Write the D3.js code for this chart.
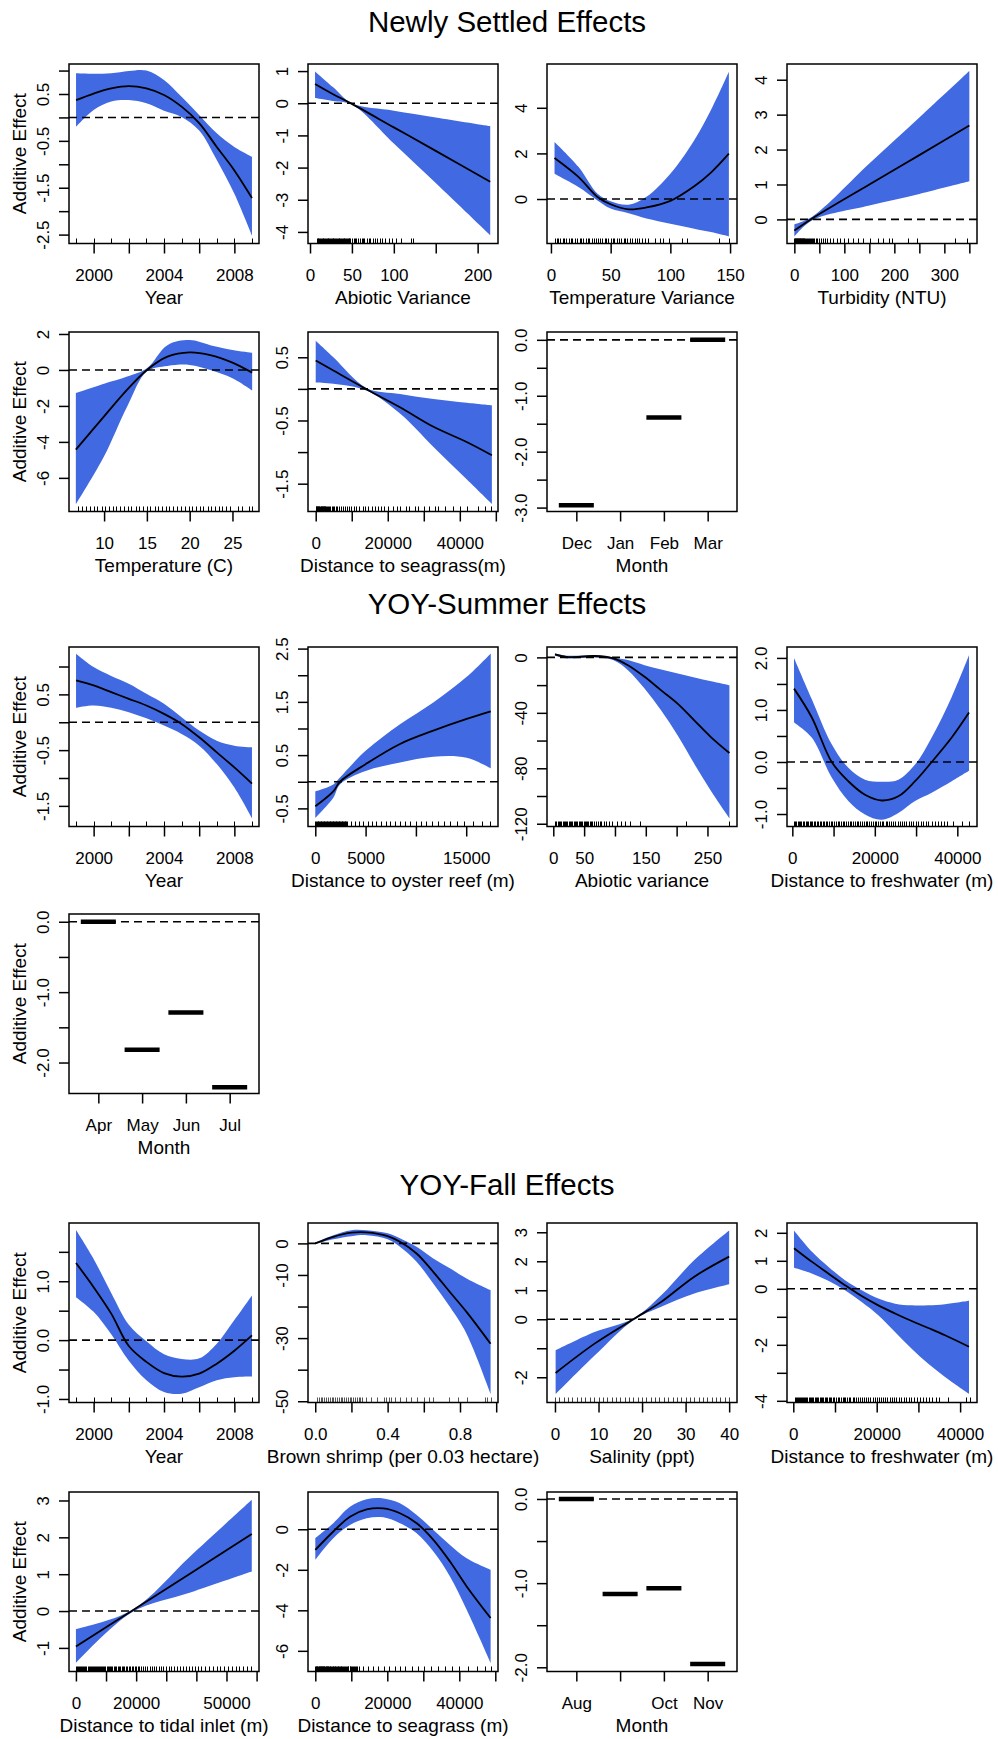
<!DOCTYPE html>
<html>
<head>
<meta charset="utf-8">
<script src="https://cdn.jsdelivr.net/npm/d3@7"></script>
<style>
  body { margin: 0; background: #fff; }
  svg text { font-family: "Liberation Sans", Arial, Helvetica, sans-serif; fill: #000; }
</style>
</head>
<body>
<svg id="chart" width="998" height="1739"></svg>
<script>
// ---- data: each smooth row is [x, fit, lower, upper] ----
const years = [1999, 2000, 2001, 2002, 2003, 2004, 2005, 2006, 2007, 2008, 2009];
const yearTicks = [2000, 2002, 2004, 2006, 2008];
const yearLabels = ["2000", "", "2004", "", "2008"];

// Newly settled
const nsYear = [
  [1999, 0.37, -0.20, 0.94], [2000, 0.51, 0.16, 0.93], [2001, 0.62, 0.34, 0.94],
  [2002, 0.67, 0.37, 0.99], [2003, 0.62, 0.30, 1.00], [2004, 0.48, 0.14, 0.80],
  [2005, 0.23, 0.01, 0.44], [2006, -0.12, -0.28, 0.05], [2007, -0.63, -0.91, -0.34],
  [2008, -1.13, -1.63, -0.63], [2009, -1.72, -2.52, -0.84]
];
const nsAbiotic = [
  [6, 0.60, 0.16, 0.99], [27, 0.29, 0.07, 0.51], [50, -0.02, -0.04, 0.00],
  [100, -0.75, -1.25, -0.23], [150, -1.48, -2.48, -0.44], [215, -2.44, -4.10, -0.71]
];
const nsAbioticRug = [8, 9, 10, 11, 12, 13, 14, 15, 16, 17, 18, 19, 20, 21, 22, 23, 24, 25, 26, 27, 28, 29, 30, 31, 32, 33, 34, 35, 36, 37, 38, 39, 40, 41, 42, 43, 44, 45, 46, 47, 48, 50, 52, 54, 55, 57, 60, 62, 63, 65, 68, 70, 72, 75, 78, 80, 83, 86, 90, 94, 98, 103, 108, 120, 123];
const nsTempVar = [
  [3, 1.80, 1.11, 2.50], [23, 0.97, 0.53, 1.41], [39, 0.09, -0.06, 0.23],
  [50, -0.23, -0.42, -0.10], [65, -0.45, -0.62, -0.25], [80, -0.37, -0.85, 0.10],
  [100, -0.08, -1.08, 1.11], [120, 0.56, -1.30, 2.58], [134, 1.16, -1.45, 3.90],
  [149, 1.99, -1.64, 5.58]
];
const nsTempVarRug = [3, 5, 6, 8, 10, 11, 13, 15, 17, 18, 20, 22, 24, 25, 27, 29, 31, 32, 34, 36, 38, 39, 41, 43, 45, 46, 48, 50, 52, 53, 55, 57, 59, 61, 62, 64, 66, 68, 70, 72, 74, 76, 79, 81, 87, 91, 94, 99, 110, 114, 141, 149];
const nsTurb = [
  [0, -0.32, -0.49, -0.14], [35, 0.02, -0.03, 0.07], [150, 1.00, 0.40, 1.60],
  [250, 1.84, 0.73, 2.92], [350, 2.69, 1.09, 4.25]
];
const nsTurbRug = [0, 1, 2, 3, 4, 5, 6, 7, 8, 9, 10, 11, 12, 13, 14, 15, 16, 17, 18, 19, 20, 22, 24, 26, 28, 30, 32, 34, 36, 38, 40, 43, 46, 50, 54, 58, 62, 66, 72, 78, 85, 92, 100, 108, 118, 127, 138, 152, 168, 178, 190, 196, 228, 245, 322, 345];
const nsTemp = [
  [6.7, -4.43, -7.47, -1.29], [10, -2.58, -4.80, -0.77], [12.7, -1.10, -2.03, -0.37],
  [15, 0.00, -0.09, 0.09], [17.4, 0.74, 0.22, 1.38], [20, 0.98, 0.28, 1.66],
  [22.4, 0.83, 0.00, 1.38], [25, 0.41, -0.46, 1.11], [27.3, -0.15, -1.14, 0.96]
];
const nsTempRug = [7.0, 7.4, 7.9, 8.3, 8.8, 9.2, 9.7, 10.1, 10.6, 11.0, 11.4, 11.9, 12.3, 12.8, 13.2, 13.7, 14.1, 14.5, 15.0, 15.4, 15.9, 16.3, 16.8, 17.2, 17.6, 18.1, 18.5, 19.0, 19.4, 19.9, 20.3, 20.7, 21.2, 21.6, 22.1, 22.5, 23.0, 23.4, 23.8, 24.3, 24.7, 25.6, 26.1, 26.9, 27.3];
const nsSeagrass = [
  [0, 0.45, 0.10, 0.76], [4900, 0.29, 0.08, 0.50], [14200, -0.01, -0.03, 0.01],
  [23400, -0.29, -0.39, -0.08], [32700, -0.60, -0.92, -0.16], [41900, -0.84, -1.43, -0.22],
  [48900, -1.05, -1.82, -0.26]
];
const nsSeagrassRug = [0, 150, 300, 450, 600, 750, 900, 1050, 1200, 1350, 1500, 1650, 1800, 1950, 2100, 2250, 2400, 2550, 2700, 2850, 3000, 3300, 3600, 4000, 4400, 4800, 5200, 5600, 6000, 6500, 7000, 7500, 8000, 8600, 9200, 9800, 10500, 11200, 12000, 13000, 13800, 14500, 15500, 16500, 17200, 18000, 19000, 20000, 21500, 22500, 23500, 25000, 26000, 27500, 28500, 30000, 31500, 33000, 34000, 36000, 38000, 40000, 42000, 45000, 47000, 48600];
const nsMonthNames = ["Dec", "Jan", "Feb", "Mar"];
const nsMonth = [-2.96, null, -1.39, 0.0];

// YOY summer
const ysYear = [
  [1999, 0.75, 0.26, 1.23], [2000, 0.66, 0.30, 0.99], [2001, 0.54, 0.26, 0.83],
  [2002, 0.42, 0.18, 0.69], [2003, 0.30, 0.07, 0.51], [2004, 0.15, -0.06, 0.33],
  [2005, -0.03, -0.21, 0.09], [2006, -0.27, -0.42, -0.15], [2007, -0.54, -0.75, -0.33],
  [2008, -0.81, -1.17, -0.42], [2009, -1.10, -1.72, -0.45]
];
const ysOyster = [
  [0, -0.46, -0.68, -0.18], [1790, -0.18, -0.30, -0.05], [2450, 0.00, -0.05, 0.08],
  [5000, 0.33, 0.20, 0.58], [8420, 0.71, 0.36, 1.08], [11730, 0.96, 0.47, 1.49],
  [15050, 1.18, 0.45, 1.97], [17440, 1.32, 0.25, 2.41]
];
const ysOysterRug = [0, 80, 150, 230, 300, 380, 450, 530, 600, 680, 750, 830, 900, 980, 1050, 1130, 1200, 1280, 1350, 1430, 1500, 1580, 1650, 1730, 1800, 1880, 1950, 2030, 2100, 2180, 2250, 2330, 2400, 2480, 2550, 2630, 2700, 2780, 2850, 2930, 3000, 3100, 3200, 3500, 3900, 4300, 4700, 5200, 5600, 6000, 6500, 7000, 7400, 7900, 8400, 8900, 9400, 10000, 10500, 11000, 11600, 12200, 12800, 13400, 14100, 14800, 15700, 16600, 17400];
const ysAbiotic = [
  [2.7, 2.2, 1.2, 2.9], [24, 0.2, -0.8, 1.2], [67, 1.0, 0.0, 1.7],
  [97, -0.7, -1.9, 0.0], [121, -5.6, -9.2, -1.9], [148, -14.0, -22.5, -5.6],
  [175, -23.8, -38.3, -8.7], [202, -33.5, -56.5, -11.6], [229, -45.6, -77.0, -14.5],
  [256, -57.7, -96.5, -17.2], [285.6, -69.0, -116.0, -20.1]
];
const ysAbioticRug = [3, 5, 7, 9, 11, 13, 15, 17, 19, 21, 23, 25, 27, 29, 31, 33, 35, 37, 39, 41, 43, 45, 47, 49, 51, 53, 55, 57, 59, 61, 63, 66, 69, 72, 75, 78, 82, 86, 90, 96, 103, 110, 117, 125, 141, 215, 285];
const ysFresh = [
  [410, 1.41, 0.76, 2.00], [4700, 0.86, 0.47, 1.21], [9550, 0.00, -0.30, 0.34],
  [13580, -0.37, -0.75, -0.11], [17620, -0.63, -1.01, -0.34], [21670, -0.74, -1.11, -0.38],
  [25700, -0.66, -0.98, -0.34], [29750, -0.37, -0.75, -0.05], [33790, 0.00, -0.59, 0.47],
  [38640, 0.47, -0.37, 1.25], [42830, 0.95, -0.17, 2.05]
];
const ysFreshRug = [400, 700, 1000, 1300, 1600, 1900, 2200, 2600, 2900, 3200, 3500, 3900, 4200, 4500, 4800, 5200, 5500, 5900, 6300, 6600, 7000, 7400, 7800, 8100, 8500, 8900, 9300, 9700, 10100, 10600, 11000, 11400, 11800, 12200, 12600, 13100, 13500, 13900, 14300, 14800, 15200, 15600, 16000, 16500, 16900, 17400, 17800, 18200, 18600, 19100, 19500, 20000, 20400, 20800, 21200, 21700, 22100, 22600, 23000, 23500, 24000, 24500, 25000, 25500, 26000, 26500, 27000, 27600, 28200, 28700, 29300, 29900, 30500, 31100, 31800, 32400, 33000, 33800, 34500, 35200, 36000, 36800, 37600, 39000, 41200, 42800];
const ysMonthNames = ["Apr", "May", "Jun", "Jul"];
const ysMonth = [0.0, -1.82, -1.29, -2.35];

// YOY fall
const yfYear = [
  [1999, 1.31, 0.73, 1.87], [2000, 0.90, 0.48, 1.38], [2001, 0.45, 0.10, 0.80],
  [2002, -0.10, -0.35, 0.26], [2003, -0.37, -0.68, -0.02], [2004, -0.56, -0.88, -0.24],
  [2005, -0.62, -0.91, -0.32], [2006, -0.57, -0.80, -0.31], [2007, -0.40, -0.68, -0.06],
  [2008, -0.18, -0.63, 0.34], [2009, 0.08, -0.62, 0.76]
];
const yfShrimp = [
  [0, 0.0, -0.2, 0.3], [0.1, 2.1, 1.3, 2.6], [0.2, 3.4, 2.3, 4.2],
  [0.284, 3.5, 2.6, 4.2], [0.4, 2.3, 1.3, 3.2], [0.468, 0.5, -1.1, 1.6],
  [0.56, -3.2, -5.8, -1.1], [0.652, -9.0, -12.7, -4.8], [0.744, -15.4, -20.1, -7.9],
  [0.836, -21.7, -28.6, -11.1], [0.969, -31.8, -47.7, -14.8]
];
const yfShrimpRug = [0.01, 0.02, 0.03, 0.04, 0.05, 0.06, 0.07, 0.08, 0.09, 0.1, 0.11, 0.12, 0.13, 0.14, 0.15, 0.16, 0.17, 0.18, 0.19, 0.2, 0.21, 0.22, 0.23, 0.24, 0.25, 0.26, 0.28, 0.31, 0.34, 0.38, 0.39, 0.41, 0.42, 0.44, 0.47, 0.5, 0.53, 0.56, 0.6, 0.63, 0.65, 0.74, 0.79, 0.84, 0.94, 0.95, 0.97];
const yfSalinity = [
  [0.15, -1.85, -2.58, -1.07], [9.1, -0.84, -1.25, -0.44], [18, 0.00, -0.03, 0.03],
  [24.4, 0.60, 0.43, 0.83], [32, 1.47, 0.89, 2.04], [40, 2.16, 1.21, 3.06]
];
const yfSalinityRug = [0, 1, 2, 3, 4, 5, 6, 7, 8, 9, 10, 11, 12, 13, 14, 15, 16, 17, 18, 19, 20, 21, 22, 23, 24, 25, 26, 27, 28, 29, 30, 31, 32, 33, 34, 35, 36, 37, 38, 39, 40];
const yfFresh = [
  [170, 1.45, 0.75, 2.08], [4410, 0.97, 0.55, 1.33], [8390, 0.55, 0.29, 0.79],
  [12400, 0.13, -0.05, 0.31], [16400, -0.26, -0.47, -0.05], [20380, -0.59, -0.94, -0.35],
  [24390, -0.88, -1.54, -0.53], [28390, -1.15, -2.14, -0.59], [32370, -1.40, -2.68, -0.59],
  [36380, -1.66, -3.15, -0.55], [42130, -2.07, -3.75, -0.43]
];
const yfFreshRug = [300, 600, 800, 1100, 1300, 1600, 1800, 2100, 2300, 2600, 2800, 3100, 3400, 3700, 4000, 4300, 4500, 4800, 5100, 5400, 5700, 6000, 6300, 6600, 6900, 7200, 7500, 7800, 8100, 8500, 8800, 9100, 9500, 9800, 10200, 10600, 11000, 11400, 11800, 12100, 12500, 12900, 13300, 13700, 14200, 14600, 15000, 15500, 16000, 16500, 17000, 17500, 18000, 18500, 19000, 19500, 20000, 20500, 21000, 21500, 22000, 22500, 23100, 23600, 24200, 24700, 25300, 25900, 26500, 27100, 27700, 28300, 29000, 29600, 30300, 31000, 31800, 32500, 33300, 34100, 35000, 37000, 41500, 42300];
const yfTidal = [
  [0, -0.96, -1.41, -0.49], [18500, 0.00, -0.04, 0.02], [38000, 1.02, 0.50, 1.49],
  [58400, 2.09, 1.07, 3.02]
];
const yfTidalRug = [0, 350, 700, 1050, 1400, 1750, 2100, 2450, 2800, 3150, 3500, 3850, 4200, 4550, 4900, 5250, 5600, 5950, 6300, 6650, 7000, 7350, 7700, 8050, 8400, 8750, 9100, 9450, 9800, 10200, 10500, 10900, 11300, 11700, 12100, 12500, 13000, 13400, 13900, 14300, 14800, 15200, 15700, 16100, 16600, 17000, 17500, 18000, 18500, 19000, 19500, 20000, 20500, 21100, 21700, 22300, 23000, 23700, 24500, 25200, 26000, 26700, 27500, 28200, 29000, 30000, 30800, 31600, 32500, 33500, 34500, 35500, 36500, 37500, 38500, 39500, 40500, 41700, 43000, 44200, 45500, 46700, 48000, 49200, 50500, 51700, 53000, 54200, 55500, 56700, 58000];
const yfSeagrass = [
  [0, -1.02, -1.51, -0.44], [5000, -0.11, -0.44, 0.30], [9630, 0.62, 0.21, 1.11],
  [14270, 0.98, 0.54, 1.48], [18900, 1.03, 0.59, 1.52], [23520, 0.79, 0.30, 1.28],
  [28160, 0.30, -0.20, 0.70], [32800, -0.52, -1.10, -0.03], [37410, -1.59, -2.33, -0.77],
  [42050, -2.82, -3.97, -1.43], [48700, -4.38, -6.59, -2.00]
];
const yfSeagrassRug = [0, 150, 300, 450, 600, 750, 900, 1050, 1200, 1350, 1500, 1650, 1800, 1950, 2100, 2250, 2400, 2550, 2700, 2850, 3000, 3150, 3300, 3450, 3600, 3800, 4000, 4200, 4400, 4600, 4800, 5000, 5200, 5400, 5600, 5800, 6000, 6200, 6400, 6600, 6800, 7000, 7200, 7500, 7700, 8000, 8200, 8500, 8700, 9000, 9200, 9500, 9700, 10000, 10200, 10500, 10800, 11100, 11400, 11700, 12000, 13200, 14500, 16000, 17500, 19000, 20500, 22000, 23500, 25000, 26800, 28500, 30300, 32000, 34000, 36000, 38000, 40000, 42500, 45000, 47000, 48700];
const yfMonthNames = ["Aug", "", "Oct", "Nov"];
const yfMonth = [0.0, -1.13, -1.06, -1.96];

// ---- layout ----
const colX = [69, 308, 547, 787];
const rowY = [64, 332, 647, 914, 1223, 1492];
const panelW = 190, panelH = 179.5;
const monthDomain = [0.33, 4.67];
const blue = "#4169e1";
const smooth = d3.curveCatmullRom.alpha(0.5);

const sections = [
  {title: "Newly Settled Effects", y: 32},
  {title: "YOY-Summer Effects", y: 614},
  {title: "YOY-Fall Effects", y: 1195}
];

const panels = [
  {col: 0, row: 0, fit: nsYear, rug: years, xDomain: [1998.6, 2009.4], yDomain: [-2.69, 1.14],
   xTicks: yearTicks, xLabels: yearLabels, xTitle: "Year", yTitle: true,
   yTicks: [1, 0.5, 0, -0.5, -1, -1.5, -2, -2.5], yLabels: ["", "0.5", "", "-0.5", "", "-1.5", "", "-2.5"]},
  {col: 1, row: 0, fit: nsAbiotic, rug: nsAbioticRug, xDomain: [-2.4, 224.3], yDomain: [-4.36, 1.22],
   xTicks: [0, 50, 100, 150, 200], xLabels: ["0", "50", "100", "", "200"], xTitle: "Abiotic Variance",
   yTicks: [1, 0, -1, -2, -3, -4], yLabels: ["1", "0", "-1", "-2", "-3", "-4"]},
  {col: 2, row: 0, fit: nsTempVar, rug: nsTempVarRug, xDomain: [-3.3, 155.8], yDomain: [-1.95, 5.92],
   xTicks: [0, 50, 100, 150], xLabels: ["0", "50", "100", "150"], xTitle: "Temperature Variance",
   yTicks: [0, 2, 4], yLabels: ["0", "2", "4"]},
  {col: 3, row: 0, fit: nsTurb, rug: nsTurbRug, xDomain: [-14.7, 365.3], yDomain: [-0.69, 4.45],
   xTicks: [0, 50, 100, 150, 200, 250, 300, 350], xLabels: ["0", "", "100", "", "200", "", "300", ""],
   xTitle: "Turbidity (NTU)", yTicks: [0, 1, 2, 3, 4], yLabels: ["0", "1", "2", "3", "4"]},
  {col: 0, row: 1, fit: nsTemp, rug: nsTempRug, xDomain: [5.9, 28.1], yDomain: [-7.87, 2.11],
   xTicks: [10, 15, 20, 25], xLabels: ["10", "15", "20", "25"], xTitle: "Temperature (C)", yTitle: true,
   yTicks: [2, 0, -2, -4, -6], yLabels: ["2", "0", "-2", "-4", "-6"]},
  {col: 1, row: 1, fit: nsSeagrass, rug: nsSeagrassRug, xDomain: [-2140, 50600], yDomain: [-1.94, 0.9],
   xTicks: [0, 10000, 20000, 30000, 40000, 50000], xLabels: ["0", "", "20000", "", "40000", ""],
   xTitle: "Distance to seagrass(m)",
   yTicks: [0.5, 0, -0.5, -1, -1.5], yLabels: ["0.5", "", "-0.5", "", "-1.5"]},
  {col: 2, row: 1, months: nsMonth, xDomain: monthDomain, yDomain: [-3.07, 0.14],
   xTicks: [1, 2, 3, 4], xLabels: nsMonthNames, xTitle: "Month",
   yTicks: [0, -0.5, -1, -1.5, -2, -2.5, -3], yLabels: ["0.0", "", "-1.0", "", "-2.0", "", "-3.0"]},

  {col: 0, row: 2, fit: ysYear, rug: years, xDomain: [1998.6, 2009.4], yDomain: [-1.87, 1.35],
   xTicks: yearTicks, xLabels: yearLabels, xTitle: "Year", yTitle: true,
   yTicks: [1, 0.5, 0, -0.5, -1, -1.5], yLabels: ["", "0.5", "", "-0.5", "", "-1.5"]},
  {col: 1, row: 2, fit: ysOyster, rug: ysOysterRug, xDomain: [-725, 18160], yDomain: [-0.84, 2.53],
   xTicks: [0, 5000, 10000, 15000], xLabels: ["0", "5000", "", "15000"], xTitle: "Distance to oyster reef (m)",
   yTicks: [2.5, 2, 1.5, 1, 0.5, 0, -0.5], yLabels: ["2.5", "", "1.5", "", "0.5", "", "-0.5"]},
  {col: 2, row: 2, fit: ysAbiotic, rug: ysAbioticRug, xDomain: [-10.2, 297.9], yDomain: [-122, 7.5],
   xTicks: [0, 50, 100, 150, 200, 250], xLabels: ["0", "50", "", "150", "", "250"], xTitle: "Abiotic variance",
   yTicks: [0, -20, -40, -60, -80, -100, -120], yLabels: ["0", "", "-40", "", "-80", "", "-120"]},
  {col: 3, row: 2, fit: ysFresh, rug: ysFreshRug, xDomain: [-1290, 44770], yDomain: [-1.24, 2.21],
   xTicks: [0, 10000, 20000, 30000, 40000], xLabels: ["0", "", "20000", "", "40000"],
   xTitle: "Distance to freshwater (m)",
   yTicks: [2, 1.5, 1, 0.5, 0, -0.5, -1], yLabels: ["2.0", "", "1.0", "", "0.0", "", "-1.0"]},
  {col: 0, row: 3, months: ysMonth, xDomain: monthDomain, yDomain: [-2.44, 0.11],
   xTicks: [1, 2, 3, 4], xLabels: ysMonthNames, xTitle: "Month", yTitle: true,
   yTicks: [0, -0.5, -1, -1.5, -2], yLabels: ["0.0", "", "-1.0", "", "-2.0"]},

  {col: 0, row: 4, fit: yfYear, rug: years, xDomain: [1998.6, 2009.4], yDomain: [-1.06, 1.99],
   xTicks: yearTicks, xLabels: yearLabels, xTitle: "Year", yTitle: true,
   yTicks: [1.5, 1, 0.5, 0, -0.5, -1], yLabels: ["", "1.0", "", "0.0", "", "-1.0"]},
  {col: 1, row: 4, fit: yfShrimp, rug: yfShrimpRug, rugColor: "#555", xDomain: [-0.04, 1.01], yDomain: [-50.4, 6.46],
   xTicks: [0, 0.2, 0.4, 0.6, 0.8, 1.0], xLabels: ["0.0", "", "0.4", "", "0.8", ""],
   xTitle: "Brown shrimp (per 0.03 hectare)",
   yTicks: [0, -10, -20, -30, -40, -50], yLabels: ["0", "-10", "", "-30", "", "-50"]},
  {col: 2, row: 4, fit: yfSalinity, rug: yfSalinityRug, rugColor: "#444", xDomain: [-1.83, 41.8], yDomain: [-2.87, 3.32],
   xTicks: [0, 10, 20, 30, 40], xLabels: ["0", "10", "20", "30", "40"], xTitle: "Salinity (ppt)",
   yTicks: [3, 2, 1, 0, -1, -2], yLabels: ["3", "2", "1", "0", "", "-2"]},
  {col: 3, row: 4, fit: yfFresh, rug: yfFreshRug, xDomain: [-1510, 44050], yDomain: [-4.06, 2.35],
   xTicks: [0, 10000, 20000, 30000, 40000], xLabels: ["0", "", "20000", "", "40000"],
   xTitle: "Distance to freshwater (m)",
   yTicks: [2, 1, 0, -1, -2, -3, -4], yLabels: ["2", "1", "0", "", "-2", "", "-4"]},
  {col: 0, row: 5, fit: yfTidal, rug: yfTidalRug, xDomain: [-2300, 60800], yDomain: [-1.64, 3.23],
   xTicks: [0, 10000, 20000, 30000, 40000, 50000, 60000], xLabels: ["0", "", "20000", "", "", "50000", ""],
   xTitle: "Distance to tidal inlet (m)", yTitle: true,
   yTicks: [3, 2, 1, 0, -1], yLabels: ["3", "2", "1", "0", "-1"]},
  {col: 1, row: 5, fit: yfSeagrass, rug: yfSeagrassRug, xDomain: [-2030, 50750], yDomain: [-7.02, 1.84],
   xTicks: [0, 10000, 20000, 30000, 40000, 50000], xLabels: ["0", "", "20000", "", "40000", ""],
   xTitle: "Distance to seagrass (m)",
   yTicks: [0, -2, -4, -6], yLabels: ["0", "-2", "-4", "-6"]},
  {col: 2, row: 5, months: yfMonth, xDomain: monthDomain, yDomain: [-2.05, 0.083],
   xTicks: [1, 2, 3, 4], xLabels: yfMonthNames, xTitle: "Month",
   yTicks: [0, -0.5, -1, -1.5, -2], yLabels: ["0.0", "", "-1.0", "", "-2.0"]}
];

const svg = d3.select("#chart");

sections.forEach(s => {
  svg.append("text")
    .attr("x", 507)
    .attr("y", s.y)
    .attr("text-anchor", "middle")
    .attr("font-size", 29.5)
    .text(s.title);
});

function drawPanel(p) {
  const g = svg.append("g")
    .attr("transform", `translate(${colX[p.col]}, ${rowY[p.row]})`);
  const x = d3.scaleLinear().domain(p.xDomain).range([0, panelW]);
  const y = d3.scaleLinear().domain(p.yDomain).range([panelH, 0]);

  // confidence band
  if (p.fit) {
    g.append("path")
      .datum(p.fit)
      .attr("fill", blue)
      .attr("d", d3.area()
        .curve(smooth)
        .x(d => x(d[0]))
        .y0(d => y(d[2]))
        .y1(d => y(d[3])));
  }

  // zero reference
  g.append("line")
    .attr("x1", 0).attr("x2", panelW)
    .attr("y1", y(0)).attr("y2", y(0))
    .attr("stroke", "#000")
    .attr("stroke-width", 1.6)
    .attr("stroke-dasharray", "8,5");

  if (p.fit) {
    g.append("path")
      .datum(p.fit)
      .attr("fill", "none")
      .attr("stroke", "#000")
      .attr("stroke-width", 1.8)
      .attr("d", d3.line()
        .curve(smooth)
        .x(d => x(d[0]))
        .y(d => y(d[1])));
  }

  if (p.rug) {
    g.append("g")
      .selectAll("line")
      .data(p.rug)
      .join("line")
        .attr("x1", d => Math.round(x(d)) + 0.5).attr("x2", d => Math.round(x(d)) + 0.5)
        .attr("y1", panelH).attr("y2", panelH - 5)
        .attr("stroke", p.rugColor || "#000")
        .attr("stroke-width", 1);
  }

  // factor effects (month)
  if (p.months) {
    g.append("g")
      .selectAll("line")
      .data(p.months.map((v, i) => [i + 1, v]).filter(d => d[1] !== null))
      .join("line")
        .attr("x1", d => x(d[0] - 0.4)).attr("x2", d => x(d[0] + 0.4))
        .attr("y1", d => y(d[1])).attr("y2", d => y(d[1]))
        .attr("stroke", "#000")
        .attr("stroke-width", 4.5);
  }

  g.append("rect")
    .attr("width", panelW)
    .attr("height", panelH)
    .attr("fill", "none")
    .attr("stroke", "#000")
    .attr("stroke-width", 1.5);

  // x axis
  const xa = g.append("g")
    .attr("transform", `translate(0, ${panelH})`)
    .call(d3.axisBottom(x)
      .tickValues(p.xTicks)
      .tickFormat((d, i) => p.xLabels[i])
      .tickSize(10)
      .tickSizeOuter(0)
      .tickPadding(15));
  xa.attr("font-family", null).attr("font-size", 17);
  xa.select(".domain").remove();
  xa.selectAll("line").attr("stroke-width", 1.5);

  // y axis, labels parallel to the axis
  const ya = g.append("g")
    .call(d3.axisLeft(y)
      .tickValues(p.yTicks)
      .tickFormat((d, i) => p.yLabels[i])
      .tickSize(10)
      .tickSizeOuter(0));
  ya.attr("font-family", null).attr("font-size", 17);
  ya.select(".domain").remove();
  ya.selectAll("line").attr("stroke-width", 1.5);
  ya.selectAll("text")
    .attr("transform", "rotate(-90)")
    .attr("x", 0)
    .attr("y", -20)
    .attr("dy", null)
    .attr("text-anchor", "middle");

  g.append("text")
    .attr("x", panelW / 2)
    .attr("y", panelH + 60)
    .attr("text-anchor", "middle")
    .attr("font-size", 19)
    .text(p.xTitle);

  if (p.yTitle) {
    g.append("text")
      .attr("transform", `translate(${26 - colX[p.col]}, ${panelH / 2}) rotate(-90)`)
      .attr("text-anchor", "middle")
      .attr("font-size", 19)
      .text("Additive Effect");
  }
}

panels.forEach(drawPanel);
</script>
</body>
</html>
